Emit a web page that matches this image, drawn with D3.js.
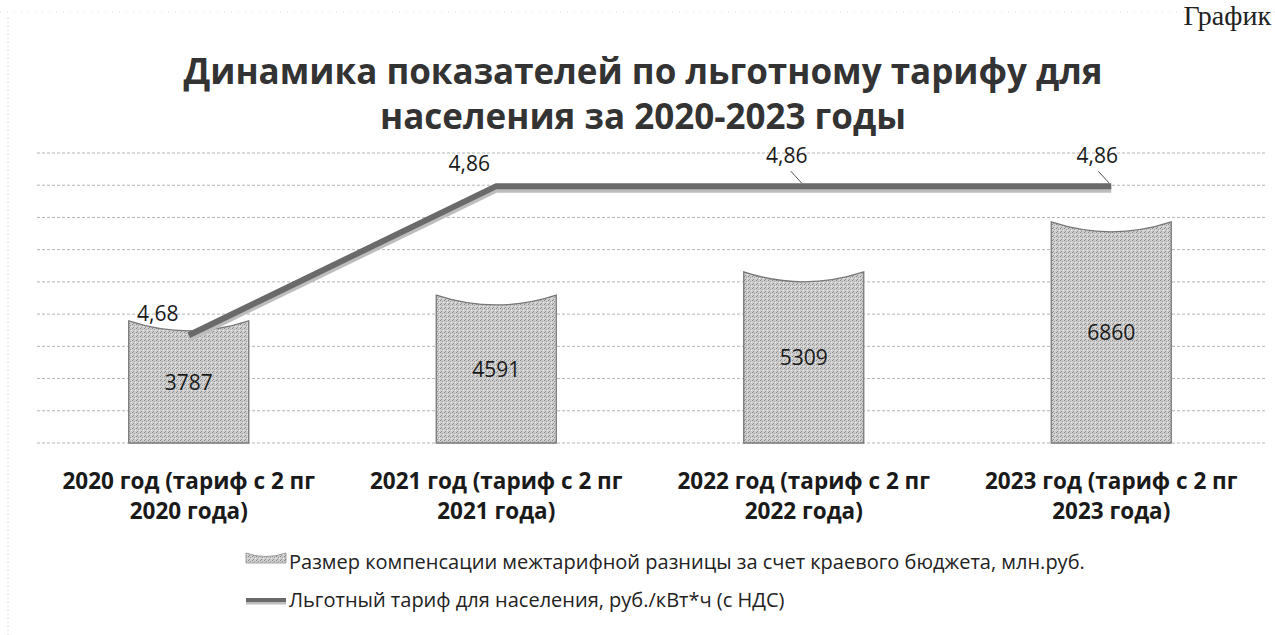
<!DOCTYPE html>
<html>
<head>
<meta charset="utf-8">
<script src="https://cdn.jsdelivr.net/npm/d3@7/dist/d3.min.js"></script>
<style>
  html, body { margin: 0; padding: 0; background: #fff; }
  svg { display: block; }
</style>
</head>
<body>
<div id="chart"></div>
<script>
// chart data
const categories = ["2020", "2021", "2022", "2023"];
const categoryLines = [
    ["2020 год (тариф с 2 пг", "2020 года)"],
    ["2021 год (тариф с 2 пг", "2021 года)"],
    ["2022 год (тариф с 2 пг", "2022 года)"],
    ["2023 год (тариф с 2 пг", "2023 года)"]
];
const compensation = [3787, 4591, 5309, 6860];      // млн.руб., bars
const tariff = [4.68, 4.86, 4.86, 4.86];            // руб./кВт*ч, line
const tariffLabels = ["4,68", "4,86", "4,86", "4,86"];
const gridTicks = [0, 1000, 2000, 3000, 4000, 5000, 6000, 7000, 8000, 9000];

const titleLines = ["Динамика показателей по льготному тарифу для", "населения за 2020-2023 годы"];
const legendItems = [
    "Размер компенсации межтарифной разницы за счет краевого бюджета, млн.руб.",
    "Льготный тариф для населения, руб./кВт*ч (с НДС)"
];

const width = 1275, height = 635;
const font = "'Open Sans', 'Noto Sans', sans-serif";

const svg = d3.select("#chart").append("svg")
    .attr("width", width)
    .attr("height", height);

const defs = svg.append("defs");

// grainy grey fill to mimic the scanned bars
const pat = defs.append("pattern")
    .attr("id", "grain")
    .attr("width", 4).attr("height", 4)
    .attr("patternUnits", "userSpaceOnUse");
pat.append("rect").attr("width", 4).attr("height", 4).attr("fill", "#cdcdcd");
pat.append("rect").attr("x", 0).attr("y", 0).attr("width", 1).attr("height", 1).attr("fill", "#888");
pat.append("rect").attr("x", 2).attr("y", 1).attr("width", 1).attr("height", 1).attr("fill", "#9c9c9c");
pat.append("rect").attr("x", 1).attr("y", 3).attr("width", 1).attr("height", 1).attr("fill", "#969696");
pat.append("rect").attr("x", 3).attr("y", 2).attr("width", 1).attr("height", 1).attr("fill", "#eaeaea");

// scales
const x = d3.scaleBand().domain(categories).range([35, 1265]).paddingInner(0).paddingOuter(0);
const barWidth = 120;
const y = d3.scaleLinear().domain([0, 9000]).range([443, 153]);
const y2 = d3.scaleLinear().domain([4.55, 4.9]).range([443, 153]);
const cx = (d) => x(d) + x.bandwidth() / 2;

// faint scan border
svg.append("line")
    .attr("x1", 8).attr("x2", 8).attr("y1", 18).attr("y2", height)
    .attr("stroke", "#c8c8c8").attr("stroke-dasharray", "1,3");
svg.append("line")
    .attr("x1", 0).attr("x2", width).attr("y1", 12).attr("y2", 12)
    .attr("stroke", "#dcdcdc").attr("stroke-dasharray", "1,6");

// "График" header in the top right corner
svg.append("text")
    .attr("x", 1271).attr("y", 25)
    .attr("text-anchor", "end")
    .style("font-family", "'Liberation Serif', serif")
    .style("font-size", "28px")
    .attr("fill", "#222")
    .text("График");

// title
svg.selectAll(".title")
    .data(titleLines)
    .enter().append("text")
    .attr("class", "title")
    .attr("x", 643)
    .attr("y", (d, i) => 84 + i * 45)
    .attr("text-anchor", "middle")
    .style("font-family", font)
    .style("font-weight", "bold")
    .style("font-size", "35px")
    .attr("fill", "#333")
    .text((d) => d);

// gridlines
svg.append("g")
    .selectAll("line")
    .data(gridTicks)
    .enter().append("line")
    .attr("x1", 37).attr("x2", 1265)
    .attr("y1", (d) => y(d)).attr("y2", (d) => y(d))
    .attr("stroke", "#b4b4b4")
    .attr("stroke-width", 1)
    .attr("stroke-dasharray", "3,2");

// bars with a concave top
const dip = 9;
svg.append("g")
    .selectAll("path")
    .data(compensation)
    .enter().append("path")
    .attr("d", (d, i) => {
        const x0 = cx(categories[i]) - barWidth / 2, x1 = x0 + barWidth;
        const yt = y(d), yb = y(0);
        return `M${x0},${yb}L${x0},${yt}Q${(x0 + x1) / 2},${yt + dip * 2.2} ${x1},${yt}L${x1},${yb}Z`;
    })
    .attr("fill", "url(#grain)")
    .attr("stroke", "#777")
    .attr("stroke-width", 1.3);

// bar value labels
svg.append("g")
    .selectAll("text")
    .data(compensation)
    .enter().append("text")
    .attr("x", (d, i) => cx(categories[i]))
    .attr("y", (d) => (y(d) + y(0)) / 2 + 8)
    .attr("text-anchor", "middle")
    .style("font-family", font)
    .style("font-size", "21px")
    .attr("fill", "#1a1a1a")
    .text((d) => d);

// tariff line (shadow + main stroke)
const line = d3.line()
    .x((d, i) => cx(categories[i]))
    .y((d) => y2(d));

svg.append("path")
    .datum(tariff)
    .attr("d", line)
    .attr("transform", "translate(0,3)")
    .attr("fill", "none")
    .attr("stroke", "#bdbdbd")
    .attr("stroke-width", 7);

svg.append("path")
    .datum(tariff)
    .attr("d", line)
    .attr("fill", "none")
    .attr("stroke", "#6a6a6a")
    .attr("stroke-width", 6);

// tariff labels, moved up-left, last two with leader lines
const labelOffsets = [[-31, -22], [-27, -23], [-17, -31], [-14, -31]];
svg.append("g")
    .selectAll("line")
    .data(tariff.slice(2))
    .enter().append("line")
    .attr("x1", (d, i) => cx(categories[i + 2]) - 13)
    .attr("y1", (d) => y2(d) - 15)
    .attr("x2", (d, i) => cx(categories[i + 2]) - 2)
    .attr("y2", (d) => y2(d) - 3)
    .attr("stroke", "#555")
    .attr("stroke-width", 1);

svg.append("g")
    .selectAll("text")
    .data(tariff)
    .enter().append("text")
    .attr("x", (d, i) => cx(categories[i]) + labelOffsets[i][0])
    .attr("y", (d, i) => y2(d) + labelOffsets[i][1] + 8)
    .attr("text-anchor", "middle")
    .style("font-family", font)
    .style("font-size", "21px")
    .attr("fill", "#1a1a1a")
    .text((d, i) => tariffLabels[i]);

// category axis labels
const cat = svg.append("g")
    .selectAll("text")
    .data(categoryLines)
    .enter().append("text")
    .attr("x", (d, i) => cx(categories[i]))
    .attr("y", 489)
    .attr("text-anchor", "middle")
    .style("font-family", font)
    .style("font-weight", "bold")
    .style("font-size", "22.5px")
    .attr("fill", "#1a1a1a");
cat.selectAll("tspan")
    .data((d) => d)
    .enter().append("tspan")
    .attr("x", function () { return d3.select(this.parentNode).attr("x"); })
    .attr("dy", (d, i) => i === 0 ? 0 : 30)
    .text((d) => d);

// legend
const legend = svg.append("g");
legend.append("path")
    .attr("d", "M246,553L246,563L286,563L286,553Q266,560 246,553Z")
    .attr("fill", "url(#grain)")
    .attr("stroke", "#8a8a8a").attr("stroke-width", 0.8);
legend.append("line")
    .attr("x1", 246).attr("x2", 286).attr("y1", 602).attr("y2", 602)
    .attr("stroke", "#bdbdbd").attr("stroke-width", 5);
legend.append("line")
    .attr("x1", 246).attr("x2", 286).attr("y1", 600).attr("y2", 600)
    .attr("stroke", "#6a6a6a").attr("stroke-width", 4);

legend.selectAll("text")
    .data(legendItems)
    .enter().append("text")
    .attr("x", 289)
    .attr("y", (d, i) => 569 + i * 38)
    .style("font-family", font)
    .style("font-size", "20px")
    .attr("fill", "#222")
    .text((d) => d);
</script>
</body>
</html>
